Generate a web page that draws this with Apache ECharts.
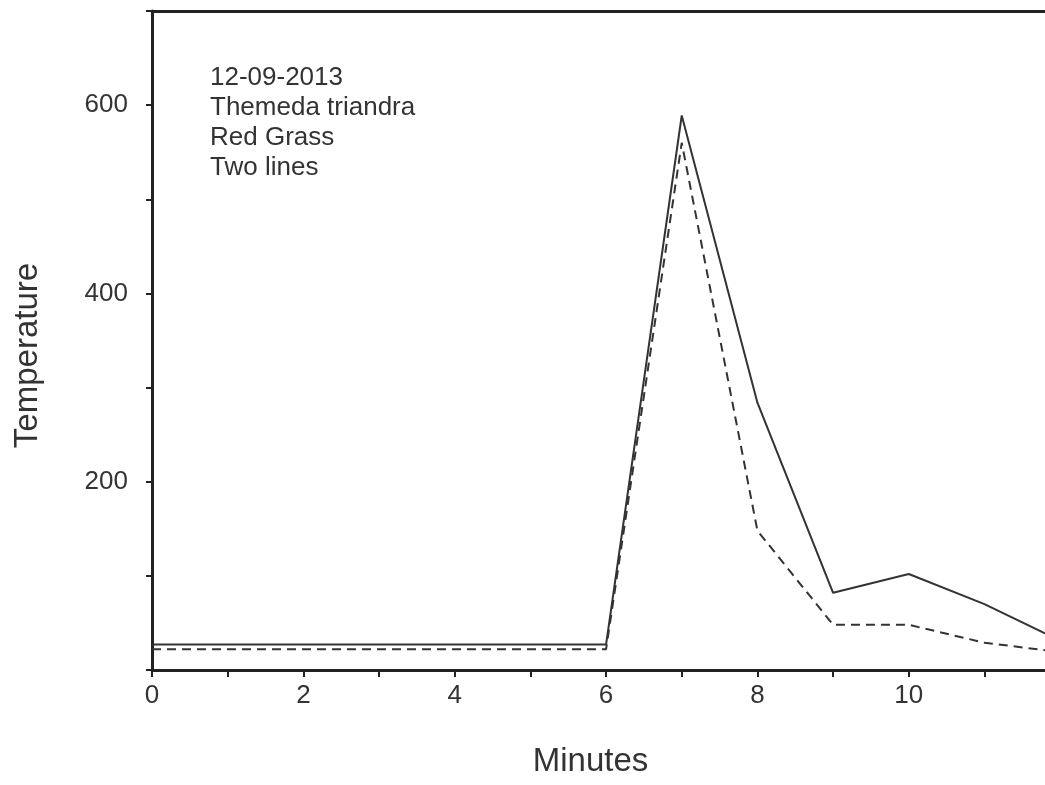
<!DOCTYPE html>
<html>
<head>
<meta charset="utf-8">
<script src="https://cdn.jsdelivr.net/npm/echarts@6/dist/echarts.min.js"></script>
<style>
  html, body { margin: 0; padding: 0; background: #fff; }
  #main { width: 1045px; height: 785px; }
</style>
</head>
<body>
<div id="main"></div>
<script>
// minutes on x axis
const minutes = [0, 1, 2, 3, 4, 5, 6, 7, 8, 9, 10, 11, 11.8]
// temperature, solid line
const solidTemp = [27, 27, 27, 27, 27, 27, 27, 589, 284, 82, 102, 70, 39]
// temperature, dashed line
const dashedTemp = [22, 22, 22, 22, 22, 22, 22, 560, 148, 48, 48, 29, 21]
const xLabels = ['0', '2', '4', '6', '8', '10']
const yLabels = ['200', '400', '600']
const noteLines = ['12-09-2013', 'Themeda triandra', 'Red Grass', 'Two lines']

const chart = echarts.init(document.getElementById('main'))

const pairs = (ys) => minutes.map((m, i) => [m, ys[i]])
const fontFamily = 'Liberation Sans, Arial, sans-serif'

chart.setOption({
  backgroundColor: '#ffffff',
  animation: false,
  grid: { left: 152, right: 0, top: 11, bottom: 115 },
  xAxis: [{
    type: 'value',
    min: 0,
    max: 11.8,
    interval: 1,
    name: 'Minutes',
    nameLocation: 'middle',
    nameGap: 75,
    nameTextStyle: { fontSize: 33, color: '#333', fontFamily: fontFamily, padding: [0, 16, 0, 0] },
    axisLine: { lineStyle: { color: '#222', width: 3 } },
    axisTick: { length: 7, lineStyle: { color: '#222', width: 2 } },
    axisLabel: {
      fontSize: 26, color: '#333', fontFamily: fontFamily, margin: 13,
      showMaxLabel: false,
      formatter: (v) => xLabels.includes(String(v)) ? String(v) : ''
    },
    splitLine: { show: false }
  }, {
    type: 'value',
    position: 'top',
    min: 0,
    max: 11.8,
    axisLine: { show: true, lineStyle: { color: '#222', width: 3 } },
    axisTick: { show: false },
    axisLabel: { show: false },
    splitLine: { show: false }
  }],
  yAxis: {
    type: 'value',
    min: 0,
    max: 700,
    interval: 100,
    name: 'Temperature',
    nameLocation: 'middle',
    nameGap: 108,
    nameTextStyle: { fontSize: 33, color: '#333', fontFamily: fontFamily, padding: [0, 30, 0, 0] },
    axisLine: { show: true, lineStyle: { color: '#222', width: 3 } },
    axisTick: { length: 6, lineStyle: { color: '#222', width: 2 } },
    axisLabel: {
      fontSize: 26, color: '#333', fontFamily: fontFamily, margin: 24,
      padding: [8, 0, 0, 0],
      formatter: (v) => yLabels.includes(String(v)) ? String(v) : ''
    },
    splitLine: { show: false }
  },
  graphic: noteLines.map((t, i) => ({
    type: 'text',
    left: 210,
    top: 65 + i * 30,
    style: { text: t, fontSize: 26, fill: '#333', fontFamily: fontFamily }
  })),
  series: [{
    type: 'line',
    data: pairs(solidTemp),
    symbol: 'none',
    lineStyle: { color: '#333', width: 2 }
  }, {
    type: 'line',
    data: pairs(dashedTemp),
    symbol: 'none',
    lineStyle: { color: '#333', width: 2, type: [9, 6] }
  }]
})
</script>
</body>
</html>
